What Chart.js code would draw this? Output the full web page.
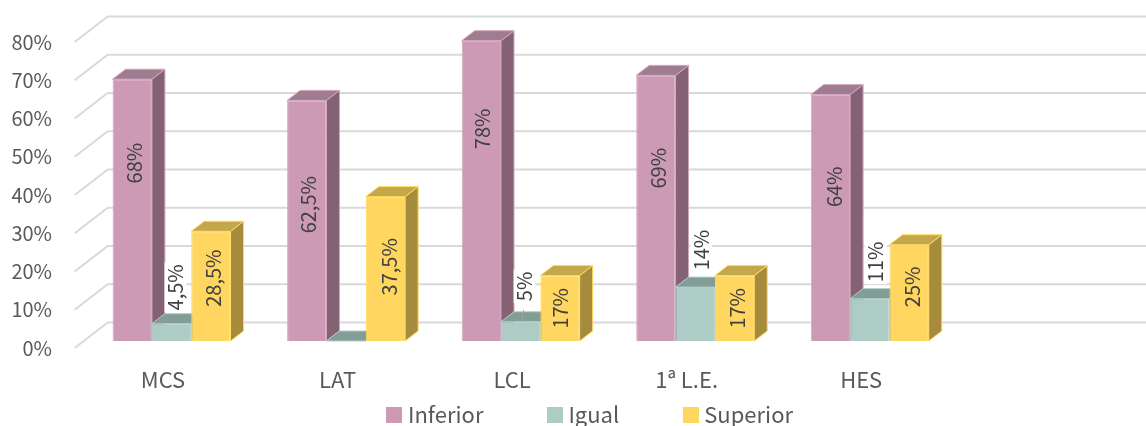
<!DOCTYPE html>
<html>
<head>
<meta charset="utf-8">
<style>html,body{margin:0;padding:0;background:#fff}canvas{display:block}</style>
<script src="https://cdn.jsdelivr.net/npm/chart.js@4"></script>
</head>
<body>
<canvas id="c" width="1146" height="426"></canvas>
<script>
const categories = ['MCS', 'LAT', 'LCL', '1ª L.E.', 'HES', ''];
const inferior = [68, 62.5, 78, 69, 64, null];
const igual = [4.5, 0, 5, 14, 11, null];
const superior = [28.5, 37.5, 17, 17, 25, null];
const inferiorLabels = ['68%', '62,5%', '78%', '69%', '64%', ''];
const igualLabels = ['4,5%', '', '5%', '14%', '11%', ''];
const superiorLabels = ['28,5%', '37,5%', '17%', '17%', '25%', ''];
const tickValues = [0, 10, 20, 30, 40, 50, 60, 70, 80];

const FONT = '"Noto Sans CJK SC"';
const styles = [
  {front:'#CC9AB5', border:'#D3A6BF', side:'#846273', top:'#A07C90'},
  {front:'#ADCCC5', border:'#B2CFC8', side:'#829D96', top:'#829D96'},
  {front:'#FFD65F', border:'#FFD95F', side:'#A68B3D', top:'#C4A748'}
];
const DEPTH_X = 13, DEPTH_Y = 10, BAR_SHIFT = 8.6;
const WALL_X = 33, WALL_Y = 25.5;
// label nudges relative to each bar's centre
const labelNudges = [
  {dx:[2,2,1,3,4], dy:[-47,-16,-62,-40,-31]},
  {dx:[4,0,4,6,6], dy:[-45,0,-45,-64,-58], boxed:true},
  {dx:[2,4,0,3,3], dy:[-8,-2,0,0,-6]}
];
const labelSets = [inferiorLabels, igualLabels, superiorLabels];

function swatch(color){
  const c = document.createElement('canvas');
  c.width = 16; c.height = 16;
  const x = c.getContext('2d');
  x.fillStyle = color; x.fillRect(0,0,16,16);
  return c;
}

const scene3d = {
  id:'scene3d',
  afterLayout(chart){
    const l = chart.legend;
    l.top = 414 - 69 - 10; l.bottom = 426;
    l.left += 31; l.right += 31;
  },
  beforeDatasetsDraw(chart){
    const {ctx, chartArea, scales} = chart;
    ctx.save();
    ctx.strokeStyle = '#D9D9D9'; ctx.lineWidth = 2;
    const x0 = chartArea.left - 1;
    tickValues.forEach(v=>{
      const y = scales.yTicks.getPixelForValue(v);
      ctx.beginPath();
      ctx.moveTo(x0, y);
      ctx.lineTo(x0+WALL_X, y-WALL_Y);
      ctx.lineTo(chart.width, y-WALL_Y);
      ctx.stroke();
    });
    ctx.restore();
    ctx.save();
    ctx.translate(BAR_SHIFT, 0);
    styles.forEach((st,d)=>{
      chart.getDatasetMeta(d).data.forEach((b,i)=>{
        if (chart.data.datasets[d].data[i] === null) return;
        const r = b.x + b.width/2, l = b.x - b.width/2, t = b.y, base = b.base;
        ctx.lineWidth = 1; ctx.strokeStyle = st.border;
        ctx.fillStyle = st.side;
        ctx.beginPath();
        ctx.moveTo(r,t); ctx.lineTo(r+DEPTH_X,t-DEPTH_Y); ctx.lineTo(r+DEPTH_X,base-DEPTH_Y); ctx.lineTo(r,base);
        ctx.closePath(); ctx.fill(); ctx.stroke();
        ctx.fillStyle = st.top;
        ctx.beginPath();
        ctx.moveTo(l,t); ctx.lineTo(l+DEPTH_X,t-DEPTH_Y); ctx.lineTo(r+DEPTH_X,t-DEPTH_Y); ctx.lineTo(r,t);
        ctx.closePath(); ctx.fill(); ctx.stroke();
      });
    });
  },
  afterDatasetsDraw(chart){
    const {ctx} = chart;
    ctx.restore();
    ctx.save();
    ctx.translate(BAR_SHIFT, 0);
    ctx.font = '20px ' + FONT;
    ctx.textAlign = 'center'; ctx.textBaseline = 'middle';
    labelSets.forEach((set,d)=>{
      const n = labelNudges[d];
      chart.getDatasetMeta(d).data.forEach((b,i)=>{
        if (!set[i]) return;
        const cx = b.x + n.dx[i], cy = (b.y+b.base)/2 + n.dy[i];
        const w = ctx.measureText(set[i]).width;
        if (n.boxed){
          ctx.fillStyle = '#fff';
          ctx.fillRect(cx-11, cy-w/2-2, 22, w+4);
          if (set[i]==='5%'){
            ctx.strokeStyle = '#A6A6A6'; ctx.lineWidth = 1;
            ctx.beginPath();
            ctx.moveTo(cx-1, b.y-12); ctx.lineTo(cx-3, b.y-1);
            ctx.stroke();
          }
        }
        ctx.save();
        ctx.translate(cx,cy); ctx.rotate(-Math.PI/2);
        ctx.fillStyle = '#404040';
        ctx.fillText(set[i],0,0);
        ctx.restore();
      });
    });
    ctx.restore();
  }
};

const mkDs = (label,data,st)=>({label,data,backgroundColor:st.front,borderColor:st.border,borderWidth:1,
  categoryPercentage:0.676,barPercentage:1,yAxisID:'y',xAxisID:'x'});

new Chart(document.getElementById('c'),{
  type:'bar',
  data:{labels:categories,datasets:[
    mkDs('Inferior',inferior,styles[0]),
    mkDs('Igual',igual,styles[1]),
    mkDs('Superior',superior,styles[2])
  ]},
  plugins:[scene3d],
  options:{
    responsive:false,animation:false,
    layout:{padding:{top:16.5,right:23,left:0,bottom:0}},
    plugins:{
      tooltip:{enabled:false},
      legend:{position:'bottom',maxHeight:18,
        labels:{usePointStyle:true,pointStyleWidth:5,boxWidth:5,boxHeight:16,padding:69,color:'#595959',font:{family:FONT,size:22},
          generateLabels(chart){
            return Chart.defaults.plugins.legend.labels.generateLabels(chart).map((it,i)=>
              Object.assign(it,{pointStyle:swatch(styles[i].front)}));
          }}}
    },
    datasets:{bar:{clip:false}},
    scales:{
      x:{grid:{display:false},border:{display:false},
        afterFit(s){s.height=60;s.paddingLeft=0;s.paddingRight=0;},
        ticks:{autoSkip:false,maxRotation:0,padding:10,color:'#595959',font:{family:FONT,size:22}}},
      y:{display:false,min:-1.82,max:84.29},
      yTicks:{position:'left',min:0,max:86.67,grid:{display:false},border:{display:false},
        afterFit(s){s.width=75.7;s.paddingTop=0;s.paddingBottom=0;},
        afterBuildTicks(s){s.ticks=tickValues.map(value=>({value}));},
        ticks:{padding:15.7,color:'#595959',font:{family:FONT,size:20},callback:v=>v+'%'}}
    }
  }
});
</script>
</body>
</html>
